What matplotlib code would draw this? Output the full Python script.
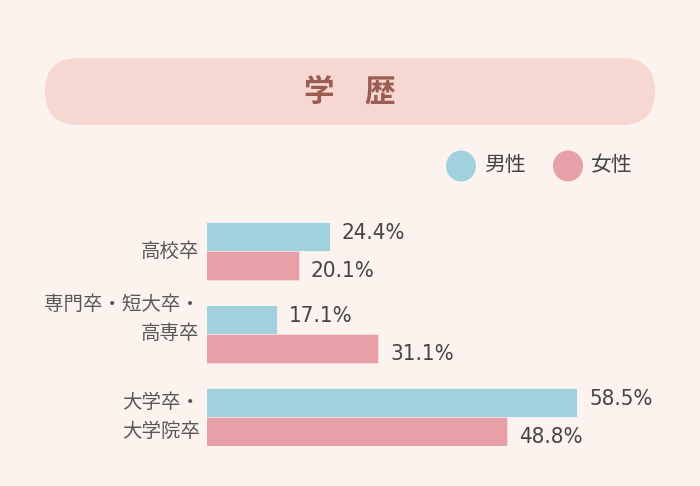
import matplotlib
matplotlib.use('Agg')
import matplotlib.pyplot as plt
from matplotlib.patches import FancyBboxPatch, Ellipse
from matplotlib import font_manager

plt.rcParams['font.family'] = ['Noto Sans CJK JP', 'DejaVu Sans']

# data
categories = ['高校卒', '専門卒・短大卒・\n高専卒', '大学卒・\n大学院卒']
male = [24.4, 17.1, 58.5]
female = [20.1, 31.1, 48.8]
title = '学　歴'
legend_labels = ['男性', '女性']

bg = '#fcf2ee'
c_male = '#a0d1dd'
c_female = '#e8a0a8'

# narrow font for the numbers if one is around, else Roboto a bit smaller
cond = font_manager.findfont(font_manager.FontProperties(family='DejaVu Sans', stretch='condensed'))
if 'Condensed' in cond:
    num_kw = dict(family='DejaVu Sans', fontstretch='condensed', fontsize=16)
else:
    num_kw = dict(family='Roboto', fontsize=16.5)

fig = plt.figure(figsize=(7, 4.86), dpi=100, facecolor=bg)

# decoration layer in pixel coords
deco = fig.add_axes([0, 0, 1, 1])
deco.set_xlim(0, 700)
deco.set_ylim(486, 0)
deco.axis('off')
deco.add_patch(FancyBboxPatch((45, 58), 610, 67,
                              boxstyle='round,pad=0,rounding_size=33.5',
                              fc='#f6d7d1', ec='none'))
deco.text(350, 92, title, ha='center', va='center', fontsize=22,
          fontweight='bold', color='#9b5c52')
for cx, col, lab in [(461, c_male, legend_labels[0]), (568, c_female, legend_labels[1])]:
    deco.add_patch(Ellipse((cx, 166), 30, 31, fc=col, ec='none'))
    deco.text(cx + 23, 165, lab, ha='left', va='center', fontsize=15, color='#444444')

# bar axes
ax = fig.add_axes([207 / 700, 40 / 486, 450 / 700, 224 / 486])
ax.set_facecolor('none')
h = 29 / 83
ys = range(len(categories))
ax.barh([y - h / 2 for y in ys], male, height=h, color=c_male, ec='#f4f8f9', lw=0.6)
ax.barh([y + h / 2 for y in ys], female, height=h, color=c_female, ec='#f7dde0', lw=0.6)
ax.set_xlim(54 / 7.25, 54 / 7.25 + 450 / 7.25)
ax.set_ylim(2 + h, -h)
ax.axis('off')

dx = 12 / 7.25
for y, m, f in zip(ys, male, female):
    ax.text(m + dx, y - h / 2 - 0.07, f'{m}%', ha='left', va='center_baseline',
            color='#444444', clip_on=False, **num_kw)
    ax.text(f + dx, y + h / 2 + 0.04, f'{f}%', ha='left', va='center_baseline',
            color='#444444', clip_on=False, **num_kw)
    shift = -0.18 if y == 1 else 0
    ax.text(54 / 7.25 - 1.0, y + shift, categories[y], ha='right', va='center',
            fontsize=14, color='#585858', linespacing=1.5, clip_on=False)

fig.savefig('out.png', dpi=100, facecolor=bg)
